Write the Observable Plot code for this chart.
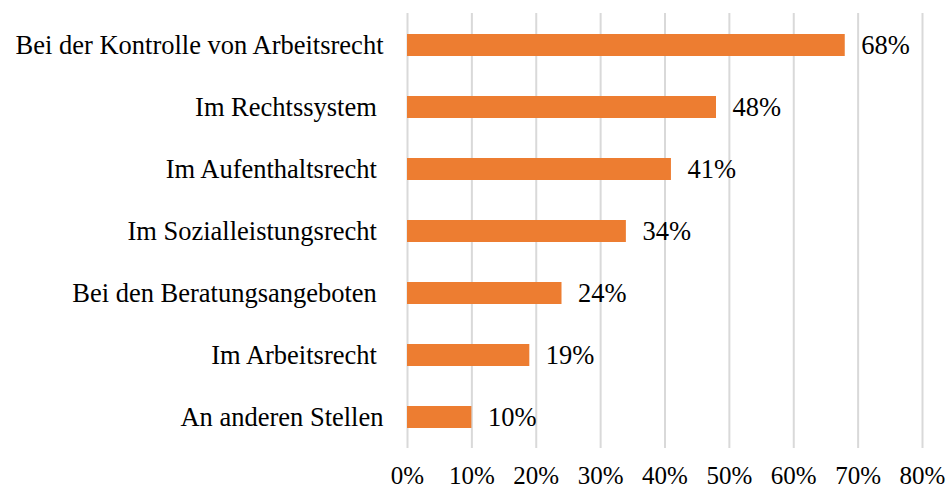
<!DOCTYPE html>
<html>
<head>
<meta charset="utf-8">
<script src="https://cdn.jsdelivr.net/npm/d3@7"></script>
<script src="https://cdn.jsdelivr.net/npm/@observablehq/plot@0.6"></script>
<style>
  html, body { margin: 0; padding: 0; background: #fff; }
  svg text { white-space: pre; }
</style>
</head>
<body>
<div id="chart"></div>
<script>
const categories = [
  "Bei der Kontrolle von Arbeitsrecht",
  "Im Rechtssystem ",
  "Im Aufenthaltsrecht ",
  "Im Sozialleistungsrecht ",
  "Bei den Beratungsangeboten ",
  "Im Arbeitsrecht ",
  "An anderen Stellen"
];
const values = [68, 48, 41, 34, 24, 19, 10];
const xTicks = [0, 10, 20, 30, 40, 50, 60, 70, 80];

const data = categories.map((c, i) => ({category: c, value: values[i]}));
const fmt = d => d + "%";

const chart = Plot.plot({
  width: 948,
  height: 491,
  marginLeft: 407,
  marginRight: 26,
  marginTop: 13,
  marginBottom: 43,
  style: {fontFamily: "'Liberation Serif', 'Times New Roman', serif", fontSize: "26.5px", color: "#000", background: "#fff"},
  x: {domain: [0, 80], ticks: xTicks, tickFormat: fmt, label: null},
  y: {domain: categories, paddingInner: 0.65, paddingOuter: 0.29, label: null},
  marks: [
    Plot.ruleX(xTicks, {stroke: "#d9d9d9", strokeWidth: 2}),
    Plot.barX(data, {x: "value", y: "category", fill: "#ED7D31"}),
    Plot.text(data, {x: "value", y: "category", text: d => fmt(d.value), textAnchor: "start", dx: 16, fill: "#000", fontSize: 26.5}),
    Plot.axisY({tickSize: 0, tickPadding: 24, fontSize: 26.5, label: null}),
    Plot.axisX({ticks: xTicks, tickFormat: fmt, tickSize: 0, tickPadding: 18, fontSize: 25, label: null})
  ]
});
document.getElementById("chart").appendChild(chart);
</script>
</body>
</html>
